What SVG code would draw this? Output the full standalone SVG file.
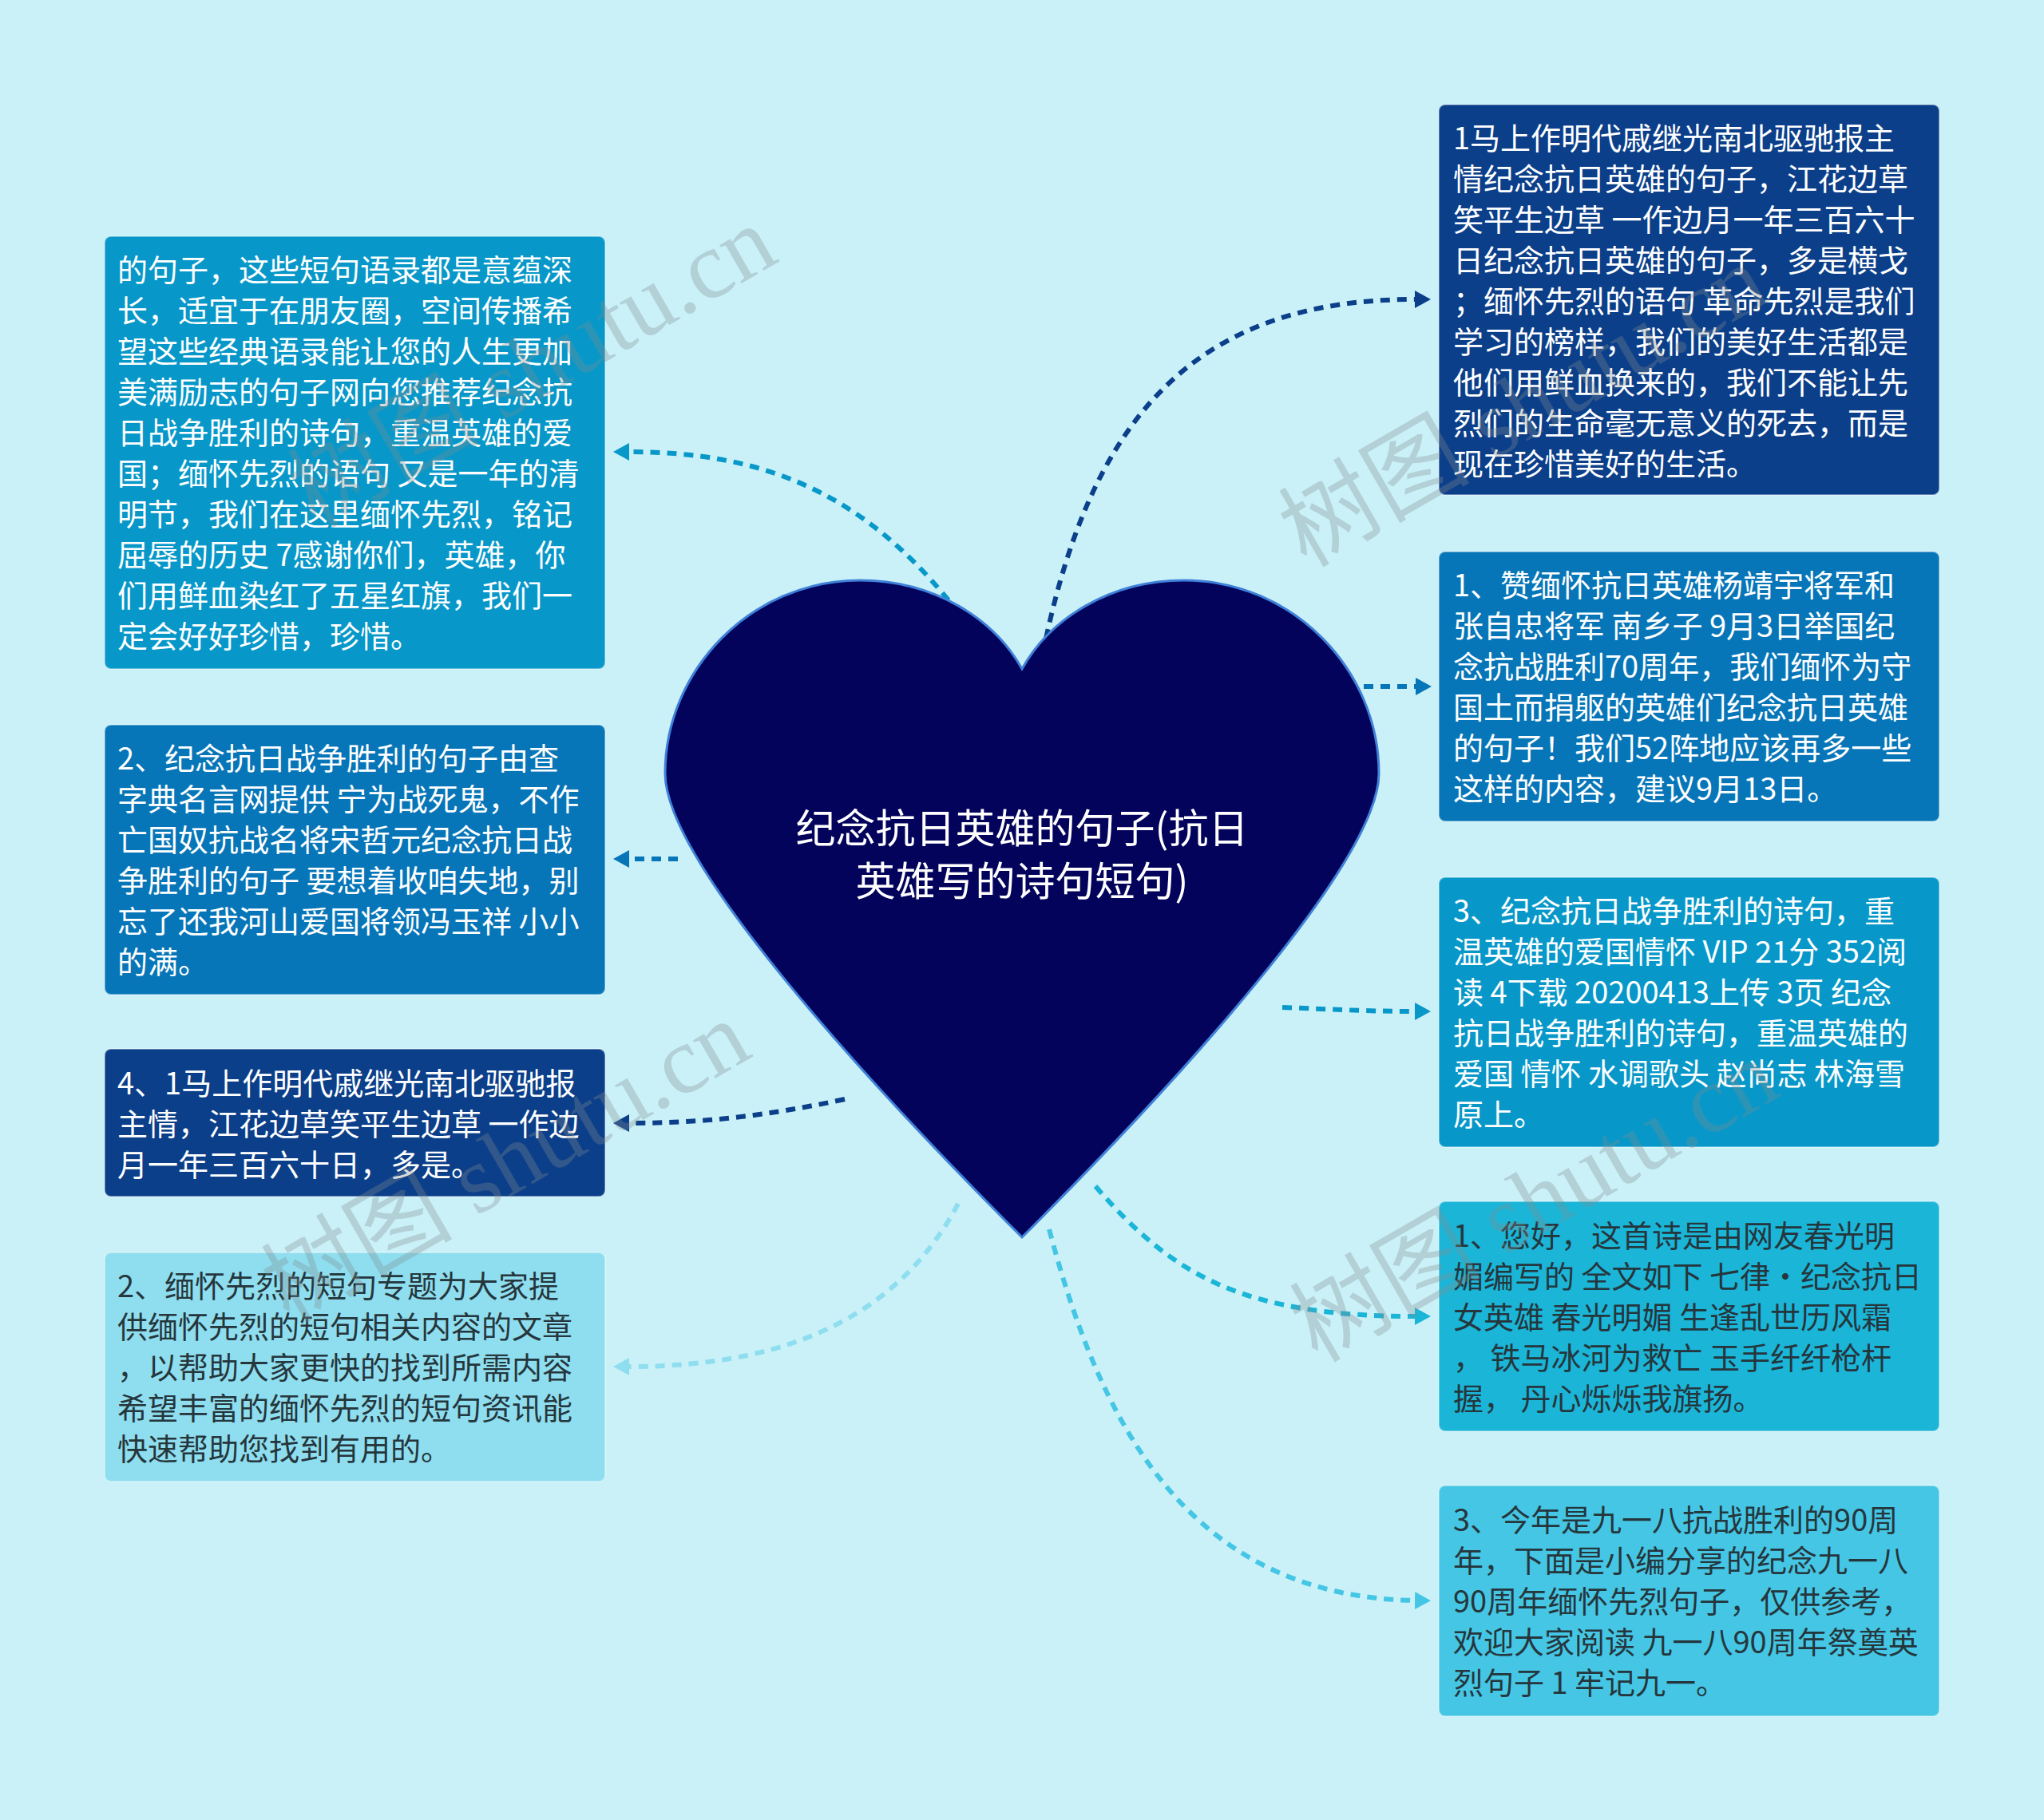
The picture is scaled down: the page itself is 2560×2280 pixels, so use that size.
<svg xmlns="http://www.w3.org/2000/svg" width="2560" height="2280" viewBox="0 0 2560 2280">
<style>
.t{font-family:"Noto Sans CJK SC","Noto Sans",sans-serif;font-size:38px;}
.w{fill:#ffffff;}
.d{fill:#25363c;}
.c{fill:none;stroke-width:6;stroke-dasharray:12 9;}
.wm{font-family:"Liberation Serif","Noto Sans CJK SC",serif;font-size:120px;fill:#7f8c8f;fill-opacity:0.32;}
.box{stroke:#ffffff;stroke-opacity:0.35;stroke-width:2;}
</style>
<defs>
<marker id="ma" markerUnits="userSpaceOnUse" viewBox="0 0 20 22" refX="0" refY="11" markerWidth="20" markerHeight="22" orient="auto"><path d="M0,0 L20,11 L0,22 Z" fill="#0798c9"/></marker>
<marker id="mb" markerUnits="userSpaceOnUse" viewBox="0 0 20 22" refX="0" refY="11" markerWidth="20" markerHeight="22" orient="auto"><path d="M0,0 L20,11 L0,22 Z" fill="#0776b8"/></marker>
<marker id="mc" markerUnits="userSpaceOnUse" viewBox="0 0 20 22" refX="0" refY="11" markerWidth="20" markerHeight="22" orient="auto"><path d="M0,0 L20,11 L0,22 Z" fill="#0c3f8a"/></marker>
<marker id="md" markerUnits="userSpaceOnUse" viewBox="0 0 20 22" refX="0" refY="11" markerWidth="20" markerHeight="22" orient="auto"><path d="M0,0 L20,11 L0,22 Z" fill="#8fdeef"/></marker>
<marker id="me" markerUnits="userSpaceOnUse" viewBox="0 0 20 22" refX="0" refY="11" markerWidth="20" markerHeight="22" orient="auto"><path d="M0,0 L20,11 L0,22 Z" fill="#1bb5d8"/></marker>
<marker id="mf" markerUnits="userSpaceOnUse" viewBox="0 0 20 22" refX="0" refY="11" markerWidth="20" markerHeight="22" orient="auto"><path d="M0,0 L20,11 L0,22 Z" fill="#45c6e4"/></marker>
</defs>
<rect x="0" y="0" width="2560" height="2280" fill="#caf1f8"/>

<g id="connectors">
<path class="c" stroke="#0798c9" marker-end="url(#ma)" d="M1188,752 C1080,620 960,566 788,566"/>
<path class="c" stroke="#0776b8" marker-end="url(#mb)" d="M849,1076 L788,1076"/>
<path class="c" stroke="#0c3f8a" marker-end="url(#mc)" d="M1058,1377 C960,1398 880,1407 788,1407"/>
<path class="c" stroke="#8fdeef" marker-end="url(#md)" d="M1200,1508 C1130,1640 1000,1712 788,1712"/>
<path class="c" stroke="#0c3f8a" marker-end="url(#mc)" d="M1310,800 C1370,520 1500,375 1772,375"/>
<path class="c" stroke="#0776b8" marker-end="url(#mb)" d="M1708,860 L1773,860"/>
<path class="c" stroke="#0798c9" marker-end="url(#ma)" d="M1606,1262 C1680,1265 1720,1267 1772,1267"/>
<path class="c" stroke="#1bb5d8" marker-end="url(#me)" d="M1372,1486 C1470,1600 1560,1649 1772,1649"/>
<path class="c" stroke="#45c6e4" marker-end="url(#mf)" d="M1314,1540 C1375,1770 1480,2000 1772,2005"/>
</g>

<g id="center">
<path d="M1280,838 C1245,775 1170,727 1077,727 C940,727 833,840 833,969 C833,1080 1090,1360 1280,1550 C1470,1360 1727,1080 1727,969 C1727,840 1620,727 1483,727 C1390,727 1315,775 1280,838 Z" fill="#03035c" stroke="#3f80d8" stroke-width="3"/>
<text class="t w" style="font-size:50px" text-anchor="middle" x="1280" y="1056">纪念抗日英雄的句子(抗日</text>
<text class="t w" style="font-size:50px" text-anchor="middle" x="1280" y="1122">英雄写的诗句短句)</text>
</g>

<g id="L1">
<rect class="box" x="131" y="296" width="627" height="542" rx="8" fill="#0798c9"/>
<text class="t w" x="147" y="352">的句子，这些短句语录都是意蕴深</text>
<text class="t w" x="147" y="403">长，适宜于在朋友圈，空间传播希</text>
<text class="t w" x="147" y="454">望这些经典语录能让您的人生更加</text>
<text class="t w" x="147" y="505">美满励志的句子网向您推荐纪念抗</text>
<text class="t w" x="147" y="556">日战争胜利的诗句，重温英雄的爱</text>
<text class="t w" x="147" y="607">国；缅怀先烈的语句 又是一年的清</text>
<text class="t w" x="147" y="658">明节，我们在这里缅怀先烈，铭记</text>
<text class="t w" x="147" y="709">屈辱的历史 7感谢你们，英雄，你</text>
<text class="t w" x="147" y="760">们用鲜血染红了五星红旗，我们一</text>
<text class="t w" x="147" y="811">定会好好珍惜，珍惜。</text>
</g>

<g id="L2">
<rect class="box" x="131" y="908" width="627" height="338" rx="8" fill="#0776b8"/>
<text class="t w" x="147" y="964">2、纪念抗日战争胜利的句子由查</text>
<text class="t w" x="147" y="1015">字典名言网提供 宁为战死鬼，不作</text>
<text class="t w" x="147" y="1066">亡国奴抗战名将宋哲元纪念抗日战</text>
<text class="t w" x="147" y="1117">争胜利的句子 要想着收咱失地，别</text>
<text class="t w" x="147" y="1168">忘了还我河山爱国将领冯玉祥 小小</text>
<text class="t w" x="147" y="1219">的满。</text>
</g>

<g id="L3">
<rect class="box" x="131" y="1314" width="627" height="185" rx="8" fill="#0c3f8a"/>
<text class="t w" x="147" y="1371">4、1马上作明代戚继光南北驱驰报</text>
<text class="t w" x="147" y="1422">主情，江花边草笑平生边草 一作边</text>
<text class="t w" x="147" y="1473">月一年三百六十日，多是。</text>
</g>

<g id="L4">
<rect class="box" x="131" y="1569" width="627" height="287" rx="8" fill="#8fdeef"/>
<text class="t d" x="147" y="1625">2、缅怀先烈的短句专题为大家提</text>
<text class="t d" x="147" y="1676">供缅怀先烈的短句相关内容的文章</text>
<text class="t d" x="147" y="1727">，以帮助大家更快的找到所需内容</text>
<text class="t d" x="147" y="1778">希望丰富的缅怀先烈的短句资讯能</text>
<text class="t d" x="147" y="1829">快速帮助您找到有用的。</text>
</g>

<g id="R1">
<rect class="box" x="1802" y="131" width="627" height="489" rx="8" fill="#0c3f8a"/>
<text class="t w" x="1820" y="187">1马上作明代戚继光南北驱驰报主</text>
<text class="t w" x="1820" y="238">情纪念抗日英雄的句子，江花边草</text>
<text class="t w" x="1820" y="289">笑平生边草 一作边月一年三百六十</text>
<text class="t w" x="1820" y="340">日纪念抗日英雄的句子，多是横戈</text>
<text class="t w" x="1820" y="391">；缅怀先烈的语句 革命先烈是我们</text>
<text class="t w" x="1820" y="442">学习的榜样，我们的美好生活都是</text>
<text class="t w" x="1820" y="493">他们用鲜血换来的，我们不能让先</text>
<text class="t w" x="1820" y="544">烈们的生命毫无意义的死去，而是</text>
<text class="t w" x="1820" y="595">现在珍惜美好的生活。</text>
</g>

<g id="R2">
<rect class="box" x="1802" y="691" width="627" height="338" rx="8" fill="#0776b8"/>
<text class="t w" x="1820" y="747">1、赞缅怀抗日英雄杨靖宇将军和</text>
<text class="t w" x="1820" y="798">张自忠将军 南乡子 9月3日举国纪</text>
<text class="t w" x="1820" y="849">念抗战胜利70周年，我们缅怀为守</text>
<text class="t w" x="1820" y="900">国土而捐躯的英雄们纪念抗日英雄</text>
<text class="t w" x="1820" y="951">的句子！我们52阵地应该再多一些</text>
<text class="t w" x="1820" y="1002">这样的内容，建议9月13日。</text>
</g>

<g id="R3">
<rect class="box" x="1802" y="1099" width="627" height="338" rx="8" fill="#0798c9"/>
<text class="t w" x="1820" y="1155">3、纪念抗日战争胜利的诗句，重</text>
<text class="t w" x="1820" y="1206">温英雄的爱国情怀 VIP 21分 352阅</text>
<text class="t w" x="1820" y="1257">读 4下载 20200413上传 3页 纪念</text>
<text class="t w" x="1820" y="1308">抗日战争胜利的诗句，重温英雄的</text>
<text class="t w" x="1820" y="1359">爱国 情怀 水调歌头 赵尚志 林海雪</text>
<text class="t w" x="1820" y="1410">原上。</text>
</g>

<g id="R4">
<rect class="box" x="1802" y="1505" width="627" height="288" rx="8" fill="#1bb5d8"/>
<text class="t d" x="1820" y="1562">1、您好，这首诗是由网友春光明</text>
<text class="t d" x="1820" y="1613">媚编写的 全文如下 七律·纪念抗日</text>
<text class="t d" x="1820" y="1664">女英雄 春光明媚 生逢乱世历风霜</text>
<text class="t d" x="1820" y="1715">， 铁马冰河为救亡 玉手纤纤枪杆</text>
<text class="t d" x="1820" y="1766">握， 丹心烁烁我旗扬。</text>
</g>

<g id="R5">
<rect class="box" x="1802" y="1861" width="627" height="289" rx="8" fill="#45c6e4"/>
<text class="t d" x="1820" y="1918">3、今年是九一八抗战胜利的90周</text>
<text class="t d" x="1820" y="1969">年，下面是小编分享的纪念九一八</text>
<text class="t d" x="1820" y="2020">90周年缅怀先烈句子，仅供参考，</text>
<text class="t d" x="1820" y="2071">欢迎大家阅读 九一八90周年祭奠英</text>
<text class="t d" x="1820" y="2122">烈句子 1 牢记九一。</text>
</g>

<g id="watermarks">
<text class="wm" transform="translate(395,663) rotate(-30)">树图 shutu.cn</text>
<text class="wm" transform="translate(1636,712) rotate(-30)">树图 shutu.cn</text>
<text class="wm" transform="translate(362,1659) rotate(-30)">树图 shutu.cn</text>
<text class="wm" transform="translate(1650,1708) rotate(-30)">树图 shutu.cn</text>
</g>
</svg>
